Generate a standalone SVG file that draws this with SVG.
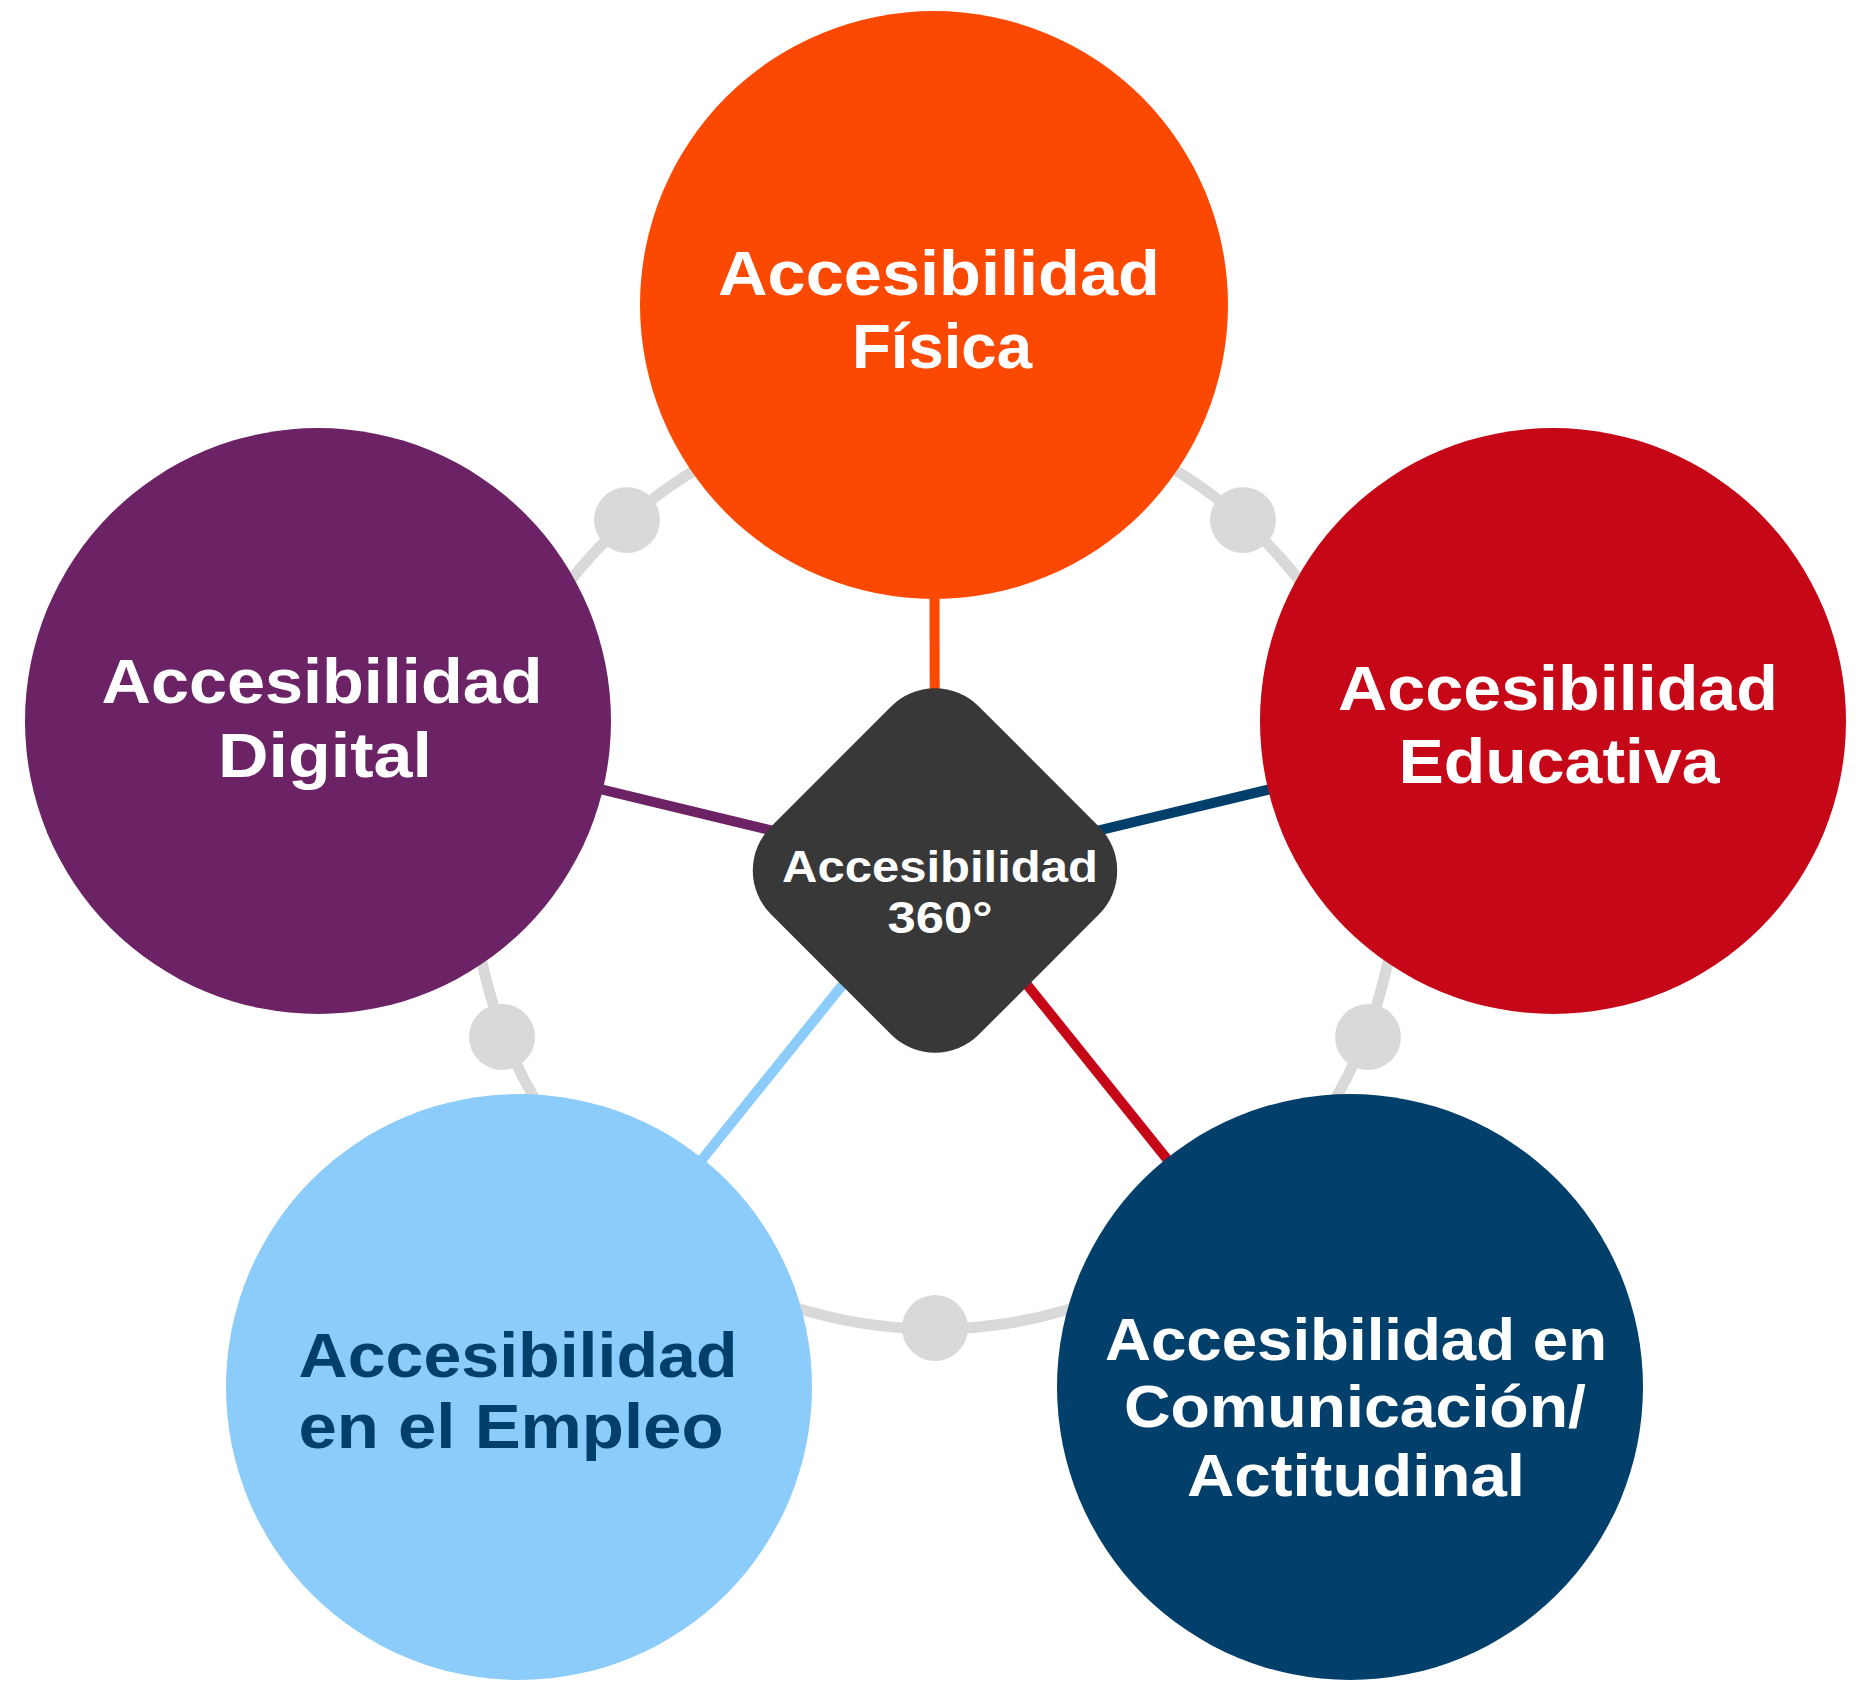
<svg xmlns="http://www.w3.org/2000/svg" width="1860" height="1682" viewBox="0 0 1860 1682">
<style>
.lbl{font-family:"Liberation Sans",Arial,sans-serif;font-weight:700;text-anchor:middle;fill:#ffffff}
.big{font-size:63px}
.mid{font-size:59px}
.sm{font-size:45px}
.dark{fill:#02406B}
.conn{stroke-width:10;fill:none}
.dot{fill:#D9D9D9}
</style>
<rect width="1860" height="1682" fill="#ffffff"/>
<g id="ring">
<circle cx="935" cy="866" r="463" fill="none" stroke="#D9D9D9" stroke-width="11"/>
<circle class="dot" cx="627" cy="520" r="33"/>
<circle class="dot" cx="1243" cy="520" r="33"/>
<circle class="dot" cx="502" cy="1037" r="33"/>
<circle class="dot" cx="1368" cy="1037" r="33"/>
<circle class="dot" cx="935" cy="1328" r="33"/>
</g>
<g id="connectors">
<line class="conn" x1="935" y1="870" x2="934" y2="305" stroke="#FB4903"/>
<line class="conn" x1="935" y1="870" x2="318" y2="721" stroke="#6C2365"/>
<line class="conn" x1="935" y1="870" x2="1553" y2="721" stroke="#02406B"/>
<line class="conn" x1="935" y1="870" x2="519" y2="1387" stroke="#8BCCFA"/>
<line class="conn" x1="935" y1="870" x2="1350" y2="1387" stroke="#C50717"/>
</g>
<g id="node-fisica">
<circle cx="934" cy="305" r="294" fill="#FB4903"/>
<text class="lbl big" x="939" y="295" textLength="442" lengthAdjust="spacingAndGlyphs">Accesibilidad</text>
<text class="lbl big" x="942" y="368" textLength="180" lengthAdjust="spacingAndGlyphs">Física</text>
</g>
<g id="node-digital">
<circle cx="318" cy="721" r="293" fill="#6C2365"/>
<text class="lbl big" x="322" y="703" textLength="441" lengthAdjust="spacingAndGlyphs">Accesibilidad</text>
<text class="lbl big" x="325" y="777" textLength="214" lengthAdjust="spacingAndGlyphs">Digital</text>
</g>
<g id="node-educativa">
<circle cx="1553" cy="721" r="293" fill="#C50717"/>
<text class="lbl big" x="1558" y="710" textLength="440" lengthAdjust="spacingAndGlyphs">Accesibilidad</text>
<text class="lbl big" x="1559" y="783" textLength="321" lengthAdjust="spacingAndGlyphs">Educativa</text>
</g>
<g id="node-empleo">
<circle cx="519" cy="1387" r="293" fill="#8BCCFA"/>
<text class="lbl big dark" x="518" y="1377" textLength="439" lengthAdjust="spacingAndGlyphs">Accesibilidad</text>
<text class="lbl big dark" x="511" y="1448" textLength="425" lengthAdjust="spacingAndGlyphs">en el Empleo</text>
</g>
<g id="node-comunicacion">
<circle cx="1350" cy="1387" r="293" fill="#02406B"/>
<text class="lbl mid" x="1356" y="1360" textLength="502" lengthAdjust="spacingAndGlyphs">Accesibilidad en</text>
<text class="lbl mid" x="1355" y="1427" textLength="462" lengthAdjust="spacingAndGlyphs">Comunicación/</text>
<text class="lbl mid" x="1356" y="1496" textLength="338" lengthAdjust="spacingAndGlyphs">Actitudinal</text>
</g>
<g id="node-center">
<rect x="-147" y="-147" width="294" height="294" rx="62" ry="62" fill="#383838" transform="translate(935 870.5) rotate(45)"/>
<text class="lbl sm" x="940" y="882" textLength="316" lengthAdjust="spacingAndGlyphs">Accesibilidad</text>
<text class="lbl sm" x="940" y="933" textLength="105" lengthAdjust="spacingAndGlyphs">360°</text>
</g>
</svg>
